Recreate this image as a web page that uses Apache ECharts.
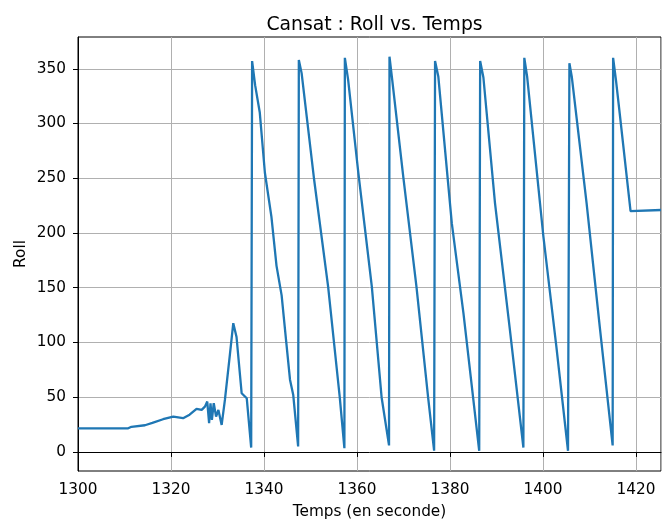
<!DOCTYPE html>
<html>
<head>
<meta charset="utf-8">
<script src="https://cdn.jsdelivr.net/npm/echarts@6/dist/echarts.min.js"></script>
<style>
  html, body { margin: 0; padding: 0; background: #fff; }
  #chart { width: 667px; height: 520px; }
</style>
</head>
<body>
<div id="chart"></div>
<script>
// temps (s) et roll (deg)
const temps = [
  1300, 1310.8, 1311.5, 1314.4, 1316, 1318.3, 1320.5, 1322.6, 1324, 1325.5,
  1326.6, 1327.3, 1327.8, 1328.2, 1328.5, 1328.8, 1329.2, 1329.7, 1330.2, 1330.9,
  1331.6, 1332.7, 1333.4, 1334.1, 1335.2, 1336.3, 1337.25,
  1337.45, 1338.1, 1339.1, 1340.2, 1341.6, 1342.7, 1343.8, 1344.8, 1345.6, 1346.3, 1347.35,
  1347.5, 1348.1, 1350.75, 1353.8, 1356.3, 1357.3,
  1357.4, 1358.1, 1360.3, 1363.2, 1365.3, 1366.9,
  1367.0, 1367.5, 1370.0, 1372.8, 1375.3, 1376.6,
  1376.8, 1377.5, 1380.4, 1382.9, 1386.3,
  1386.5, 1387.2, 1389.7, 1392.9, 1395.8,
  1396.0, 1396.6, 1400.1, 1402.9, 1405.4,
  1405.7, 1406.2, 1409.4, 1412.3, 1415.0,
  1415.1, 1415.7, 1416.5, 1418.85, 1425.4
]
const roll = [
  21.5, 21.6, 23, 24.4, 26.5, 29.9, 32.3, 30.8, 34, 39.3,
  38.4, 41.4, 46, 26.2, 44.5, 29.2, 44.5, 32.3, 38.4, 24.7,
  47.5, 90, 117.6, 105, 53.6, 49, 4,
  357, 335, 310, 255, 215, 170, 143, 100, 66, 52, 5,
  358, 346, 250, 151, 50, 3.4,
  360, 340, 255, 151, 50, 6,
  361, 343, 250, 151, 50, 1.2,
  357, 343, 209, 127, 1,
  357, 342, 227, 111.5, 4,
  360, 343, 197, 96, 1,
  355, 343, 227, 111.5, 6,
  360, 340, 310, 220, 221
]
const yTicks = [0, 50, 100, 150, 200, 250, 300, 350]

const points = temps.map((t, i) => [t, roll[i]])

const chart = echarts.init(document.getElementById('chart'), null, { renderer: 'canvas' })
const font = 'DejaVu Sans'
const fs = 15.3

chart.setOption({
  animation: false,
  backgroundColor: '#fff',
  title: {
    text: 'Cansat : Roll vs. Temps',
    left: 369.5, top: 11,
    textAlign: 'center',
    textStyle: { fontFamily: font, fontSize: 18.8, fontWeight: 'normal', color: '#000' }
  },
  grid: {
    left: 78, right: 6, top: 37, bottom: 49,
    outerBoundsMode: 'none',
    show: true, borderColor: '#000', borderWidth: 1
  },
  xAxis: {
    type: 'value',
    min: 1300, max: 1425.4, interval: 20,
    name: 'Temps (en seconde)',
    nameLocation: 'middle', nameGap: 34, nameMoveOverlap: false,
    nameTextStyle: { fontFamily: font, fontSize: fs, color: '#000' },
    axisLine: { show: true, lineStyle: { color: '#000', width: 1 } },
    axisTick: { show: true, length: 5, lineStyle: { color: '#000', width: 1 } },
    axisLabel: {
      fontFamily: font, fontSize: fs, color: '#000', margin: 12, showMaxLabel: false,
      formatter: v => String(v)
    },
    splitLine: { show: true, lineStyle: { color: '#b0b0b0', width: 1 } }
  },
  yAxis: {
    type: 'value',
    min: -17.4, max: 379,
    name: 'Roll',
    nameLocation: 'middle', nameGap: 49, nameRotate: 90, nameMoveOverlap: false,
    nameTextStyle: { fontFamily: font, fontSize: fs, color: '#000' },
    axisLine: { show: true, lineStyle: { color: '#000', width: 1 } },
    axisTick: { show: true, length: 5, customValues: yTicks, lineStyle: { color: '#000', width: 1 } },
    axisLabel: { fontFamily: font, fontSize: fs, color: '#000', margin: 12, customValues: yTicks },
    splitLine: { show: true, lineStyle: { color: '#b0b0b0', width: 1 } }
  },
  series: [{
    type: 'line',
    data: points,
    showSymbol: false,
    lineStyle: { color: '#1f77b4', width: 2.3 },
    itemStyle: { color: '#1f77b4' },
    silent: true
  }]
})
</script>
</body>
</html>
